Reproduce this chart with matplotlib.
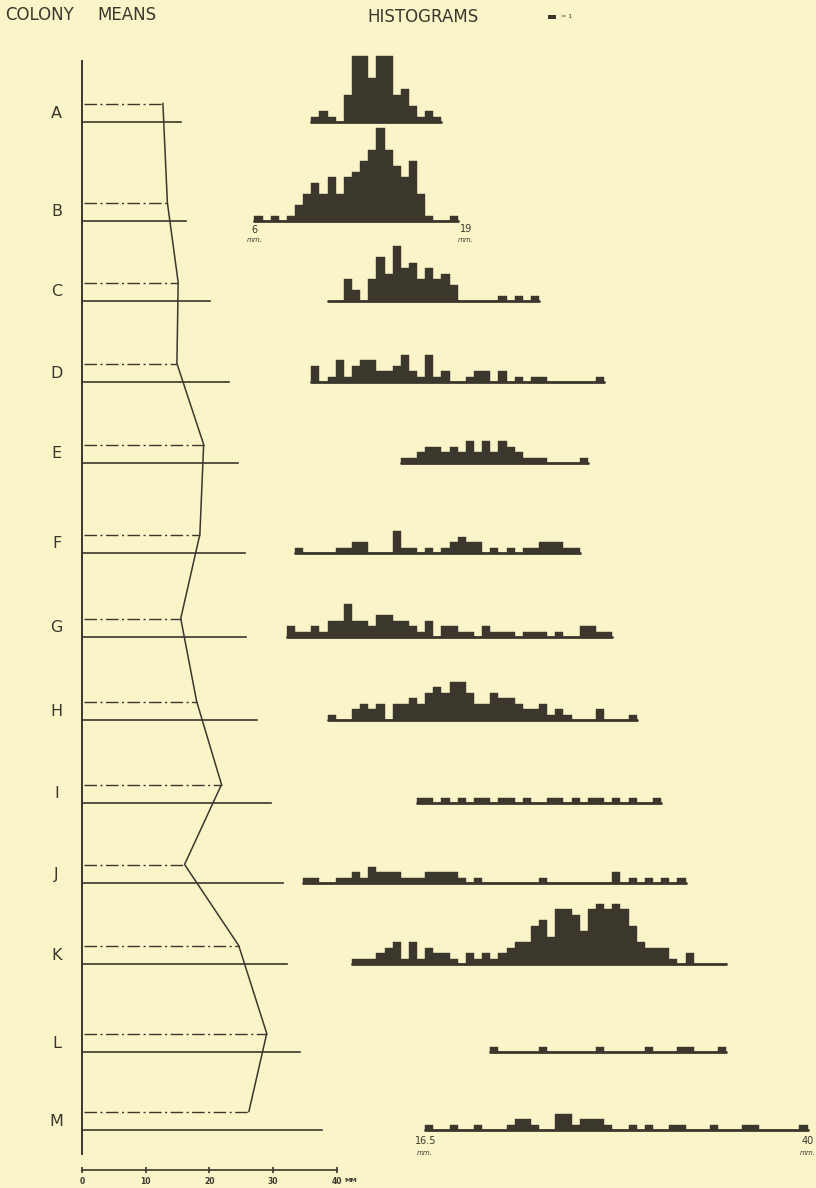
import matplotlib
matplotlib.use("Agg")
import matplotlib.pyplot as plt

# colony summary (mm)
colonies = list("ABCDEFGHIJKLM")
mean_mm = [12.7, 13.4, 15.1, 14.9, 19.1, 18.5, 15.5, 18.0, 21.9, 16.1, 24.6, 29.0, 26.2]
max_mm = [15.6, 16.4, 20.1, 23.0, 24.5, 25.6, 25.8, 27.5, 29.7, 31.5, 32.2, 34.2, 37.6]

# histograms: counts per 0.5 mm class, first class starting at hist_start
bin_mm = 0.5
hist_start = [9.5, 6.0, 10.5, 9.5, 15.0, 8.5, 8.0, 10.5, 16.0, 9.0, 12.0, 20.5, 16.5]
hist_A = [1, 2, 1, 0, 5, 12, 12, 8, 12, 12, 5, 6, 3, 1, 2, 1]
hist_B = [1, 0, 1, 0, 1, 3, 5, 7, 5, 8, 5, 8, 9, 11, 13, 17, 13, 10, 8, 11, 5, 1, 0, 0, 1]
hist_C = [0, 0, 4, 2, 0, 4, 8, 5, 10, 6, 7, 4, 6, 4, 5, 3, 0, 0, 0, 0, 0, 1, 0, 1, 0, 1]
hist_D = [3, 0, 1, 4, 1, 3, 4, 4, 2, 2, 3, 5, 2, 1, 5, 1, 2, 0, 0, 1, 2, 2, 0, 2, 0, 1,
          0, 1, 1, 0, 0, 0, 0, 0, 0, 1]
hist_E = [1, 1, 2, 3, 3, 2, 3, 2, 4, 2, 4, 2, 4, 3, 2, 1, 1, 1, 0, 0, 0, 0, 1]
hist_F = [1, 0, 0, 0, 0, 1, 1, 2, 2, 0, 0, 0, 4, 1, 1, 0, 1, 0, 1, 2, 3, 2, 2, 0, 1, 0,
          1, 0, 1, 1, 2, 2, 2, 1, 1]
hist_G = [2, 1, 1, 2, 1, 3, 3, 6, 3, 3, 2, 4, 4, 3, 3, 2, 1, 3, 0, 2, 2, 1, 1, 0, 2, 1,
          1, 1, 0, 1, 1, 1, 0, 1, 0, 0, 2, 2, 1, 1]
hist_H = [1, 0, 0, 2, 3, 2, 3, 0, 3, 3, 4, 3, 5, 6, 5, 7, 7, 5, 3, 3, 5, 4, 4, 3, 2, 2,
          3, 1, 2, 1, 0, 0, 0, 2, 0, 0, 0, 1]
hist_I = [1, 1, 0, 1, 0, 1, 0, 1, 1, 0, 1, 1, 0, 1, 0, 0, 1, 1, 0, 1, 0, 1, 1, 0, 1, 0,
          1, 0, 0, 1]
hist_J = [1, 1, 0, 0, 1, 1, 2, 1, 3, 2, 2, 2, 1, 1, 1, 2, 2, 2, 2, 1, 0, 1, 0, 0, 0, 0,
          0, 0, 0, 1, 0, 0, 0, 0, 0, 0, 0, 0, 2, 0, 1, 0, 1, 0, 1, 0, 1]
hist_K = [1, 1, 1, 2, 3, 4, 1, 4, 1, 3, 2, 2, 1, 0, 2, 1, 2, 1, 2, 3, 4, 4, 7, 8, 5, 10,
          10, 9, 6, 10, 11, 10, 11, 10, 7, 4, 3, 3, 3, 1, 0, 2, 0, 0, 0, 0]
hist_L = [1, 0, 0, 0, 0, 0, 1, 0, 0, 0, 0, 0, 0, 1, 0, 0, 0, 0, 0, 1, 0, 0, 0, 1, 1, 0,
          0, 0, 1]
hist_M = [1, 0, 0, 1, 0, 0, 1, 0, 0, 0, 1, 2, 2, 1, 0, 0, 3, 3, 1, 2, 2, 2, 1, 0, 0, 1,
          0, 1, 0, 0, 1, 1, 0, 0, 0, 1, 0, 0, 0, 1, 1, 0, 0, 0, 0, 0, 1]
hist_counts = [hist_A, hist_B, hist_C, hist_D, hist_E, hist_F, hist_G,
               hist_H, hist_I, hist_J, hist_K, hist_L, hist_M]

scale_ticks = [0, 10, 20, 30, 40]

# page layout, in pixels
W, H = 816, 1188
row_y = [122, 221, 301, 382, 463, 553, 637, 720, 803, 883, 964, 1052, 1130]
MEAN_OFFSET = 18.5     # dash-dot line sits above the solid one
UNIT = 5.5             # height of one specimen in a histogram
PAPER = "#faf5c9"
INK = "#3b372c"

fig = plt.figure(figsize=(W / 100, H / 100), dpi=100, facecolor=PAPER)

# left panel: 6.37 px per mm, origin at x=82
ax_l = fig.add_axes([0, 0, 1, 1])
ax_l.set_xlim(-82 / 6.37, (W - 82) / 6.37)
ax_l.set_ylim(H, 0)
ax_l.axis("off")

# right panel: 16.27 px per mm
ax_r = fig.add_axes([0, 0, 1, 1])
ax_r.set_xlim(20.375 - 488.25 / 16.27, 20.375 + (W - 488.25) / 16.27)
ax_r.set_ylim(H, 0)
ax_r.axis("off")
ax_r.patch.set_alpha(0)

dashdot = (0, (9, 2.5, 1.5, 2.5))

ax_l.plot([0, 0], [60, 1155], color=INK, lw=1.4, solid_capstyle="butt")
mean_y = [y - MEAN_OFFSET for y in row_y]
for name, y, ym, mn, mx in zip(colonies, row_y, mean_y, mean_mm, max_mm):
    ax_l.plot([0, mx], [y, y], color=INK, lw=1.2)
    ax_l.plot([0.3, mn], [ym, ym], color=INK, lw=1.0, linestyle=dashdot)
    ax_l.text(-4.0, y - 9, name, ha="center", va="center", fontsize=11.5, color=INK)
ax_l.plot(mean_mm, mean_y, color=INK, lw=1.1, solid_joinstyle="round")

# mm scale under the means
ax_l.plot([0, 40], [1170, 1170], color=INK, lw=1.2)
ax_l.plot(scale_ticks, [1170] * len(scale_ticks), ls="none", marker="|",
          ms=5, mew=1.2, color=INK)
for t in scale_ticks:
    ax_l.text(t, 1181, str(t), ha="center", va="center", fontsize=5.5,
              color=INK, fontweight="bold")
ax_l.text(41.2, 1181, "MM", ha="left", va="center", fontsize=4.5, color=INK,
          fontweight="bold")

# histograms
for counts, start, y in zip(hist_counts, hist_start, row_y):
    lefts = [start + i * bin_mm for i in range(len(counts))]
    heights = [-c * UNIT for c in counts]
    ax_r.bar(lefts, heights, width=bin_mm, bottom=y, align="edge",
             color=INK, edgecolor=INK, linewidth=0.3)
    ax_r.plot([start, start + len(counts) * bin_mm], [y, y], color=INK,
              lw=2.0, solid_capstyle="round")

# size labels on the first and last histograms
for val, txt, y in [(6, "6", 230), (19, "19", 229), (16.5, "16.5", 1141), (40, "40", 1141)]:
    ax_r.text(val, y, txt, ha="center", va="center", fontsize=7, color=INK)
for val, y in [(6, 240), (19, 240), (16.5, 1153), (40, 1153)]:
    ax_r.text(val, y, "mm.", ha="center", va="center", fontsize=5, color=INK,
              style="italic")

# key: one block = one specimen
key_x = 20.375 + (548 - 488.25) / 16.27
ax_r.bar([key_x], [-UNIT * 0.8], width=bin_mm, bottom=19, align="edge",
         color=INK, linewidth=0)
ax_r.text(key_x + 0.8, 16.5, "= 1", ha="left", va="center", fontsize=4.5, color=INK)

fig.text(5 / W, 1 - 15 / H, "COLONY", ha="left", va="center", fontsize=12, color=INK)
fig.text(97 / W, 1 - 15 / H, "MEANS", ha="left", va="center", fontsize=12, color=INK)
fig.text(367 / W, 1 - 17 / H, "HISTOGRAMS", ha="left", va="center", fontsize=12,
         color=INK)

fig.savefig("out.png", dpi=100, facecolor=PAPER)
